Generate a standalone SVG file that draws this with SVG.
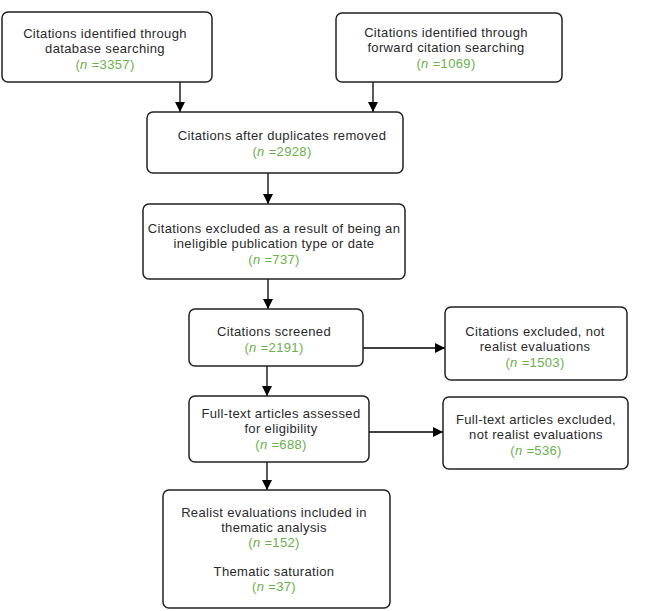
<svg xmlns="http://www.w3.org/2000/svg" width="645" height="611" viewBox="0 0 645 611">
<defs>
<marker id="ah" viewBox="0 0 10 10" refX="10" refY="5" markerWidth="10" markerHeight="10" markerUnits="userSpaceOnUse" orient="auto">
<path d="M0,0 L10,5 L0,10 Z" fill="#000"/>
</marker>
<style>
.box{fill:#fff;stroke:#222;stroke-width:1.5}
text{font-family:"Liberation Sans",Arial,sans-serif;font-size:13px;letter-spacing:0.35px;fill:#2a2a2a;text-anchor:middle}
.g{fill:#6ab04c}
.i{font-style:italic}
.c{stroke:#000;stroke-width:1.3;fill:none;marker-end:url(#ah)}
</style>
</defs>
<rect width="645" height="611" fill="#fff"/>
<g id="connectors">
<line class="c" x1="180" y1="82" x2="180" y2="112"/>
<line class="c" x1="373" y1="82" x2="373" y2="112"/>
<line class="c" x1="268" y1="173" x2="268" y2="204"/>
<line class="c" x1="268" y1="279" x2="268" y2="309"/>
<line class="c" x1="363" y1="348" x2="445" y2="348"/>
<line class="c" x1="267" y1="366" x2="267" y2="396"/>
<line class="c" x1="369" y1="432" x2="443" y2="432"/>
<line class="c" x1="267" y1="462" x2="267" y2="490"/>
</g>
<g id="n1">
<rect class="box" x="2" y="12" width="210" height="70" rx="6"/>
<text x="105" y="38">Citations identified through</text>
<text x="105" y="53">database searching</text>
<text x="105" y="69" class="g">(<tspan class="i">n</tspan> =3357)</text>
</g>
<g id="n2">
<rect class="box" x="336" y="13" width="226" height="69" rx="6"/>
<text x="446" y="37">Citations identified through</text>
<text x="446" y="52">forward citation searching</text>
<text x="446" y="68" class="g">(<tspan class="i">n</tspan> =1069)</text>
</g>
<g id="n3">
<rect class="box" x="147" y="112" width="256" height="61" rx="6"/>
<text x="282" y="140">Citations after duplicates removed</text>
<text x="282" y="156" class="g">(<tspan class="i">n</tspan> =2928)</text>
</g>
<g id="n4">
<rect class="box" x="143" y="204" width="262" height="75" rx="6"/>
<text x="274" y="233">Citations excluded as a result of being an</text>
<text x="274" y="248">ineligible publication type or date</text>
<text x="274" y="264" class="g">(<tspan class="i">n</tspan> =737)</text>
</g>
<g id="n5">
<rect class="box" x="189" y="309" width="174" height="57" rx="6"/>
<text x="274" y="336">Citations screened</text>
<text x="274" y="352" class="g">(<tspan class="i">n</tspan> =2191)</text>
</g>
<g id="n6">
<rect class="box" x="445" y="307" width="182" height="73" rx="6"/>
<text x="535" y="336">Citations excluded, not</text>
<text x="535" y="351">realist evaluations</text>
<text x="535" y="367" class="g">(<tspan class="i">n</tspan> =1503)</text>
</g>
<g id="n7">
<rect class="box" x="189" y="396" width="180" height="66" rx="6"/>
<text x="281" y="418">Full-text articles assessed</text>
<text x="281" y="433">for eligibility</text>
<text x="281" y="449" class="g">(<tspan class="i">n</tspan> =688)</text>
</g>
<g id="n8">
<rect class="box" x="443" y="397" width="185" height="72" rx="6"/>
<text x="536" y="424">Full-text articles excluded,</text>
<text x="536" y="439">not realist evaluations</text>
<text x="536" y="455" class="g">(<tspan class="i">n</tspan> =536)</text>
</g>
<g id="n9">
<rect class="box" x="163" y="490" width="227" height="118" rx="6"/>
<text x="274" y="517">Realist evaluations included in</text>
<text x="274" y="532">thematic analysis</text>
<text x="274" y="547" class="g">(<tspan class="i">n</tspan> =152)</text>
<text x="274" y="576">Thematic saturation</text>
<text x="274" y="591" class="g">(<tspan class="i">n</tspan> =37)</text>
</g>
</svg>
